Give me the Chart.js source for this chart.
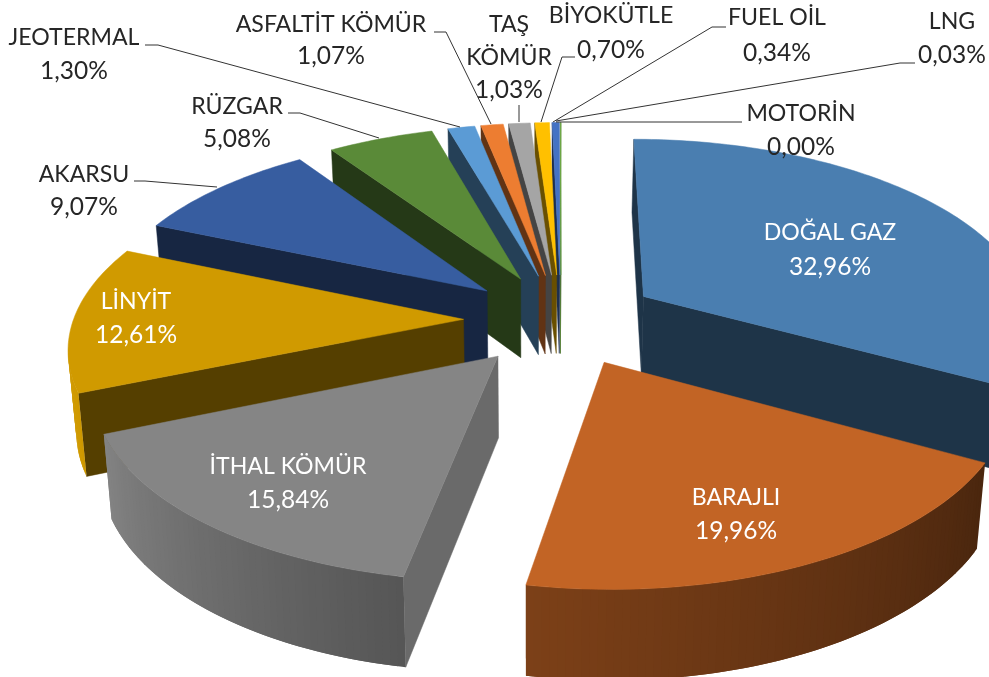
<!DOCTYPE html>
<html><head><meta charset="utf-8">
<style>html,body{margin:0;padding:0;background:#fff}canvas{display:block}</style>
<script src="https://cdn.jsdelivr.net/npm/chart.js@4"></script>
</head><body>
<canvas id="c" width="989" height="677"></canvas>
<script>
const categories = ["DOĞAL GAZ","BARAJLI","İTHAL KÖMÜR","LİNYİT","AKARSU","RÜZGAR","JEOTERMAL","ASFALTİT KÖMÜR","TAŞ KÖMÜR","BİYOKÜTLE","FUEL OİL","LNG","MOTORİN"];
const shares = [32.96,19.96,15.84,12.61,9.07,5.08,1.30,1.07,1.03,0.70,0.34,0.03,0.00];
const colors = ["#4a7eb0","#c26425","#858585","#d09a00","#375da0","#5a8a38","#5b9bd5","#ed7d31","#a5a5a5","#ffc000","#4472c4","#70ad47","#255e91"];
const labelLines = [["DOĞAL GAZ"],["BARAJLI"],["İTHAL KÖMÜR"],["LİNYİT"],["AKARSU"],["RÜZGAR"],["JEOTERMAL"],["ASFALTİT KÖMÜR"],["TAŞ","KÖMÜR"],["BİYOKÜTLE"],["FUEL OİL"],["LNG"],["MOTORİN"]];

// label layout: centre x, y of first line, line gap, colour
const labelPos = [[830,232.5,35,"#fff"],[736,497.5,34,"#fff"],[288,466.5,34,"#fff"],[136,301.5,34,"#fff"],
 [84,174.5,33,"#262626"],[237,106.5,33,"#262626"],[74,37.5,34,"#262626"],[331,24.5,32,"#262626"],[509,24.5,33,"#262626"],
 [611,16,34,"#262626"],[777,18,35,"#262626"],[952,22,33,"#262626"],[801,114,33,"#262626"]];
const leaders = [[[145,45],[158,45],[460,127]],[[434,32],[446,32],[491,124]],[[288,113],[300,113],[379,138]],
 [[134,181],[145,181],[217,187]],[[519,105],[519,122]],[[575,57],[562,57],[541,122]],[[726,27],[712,27],[553,122]],
 [[915,63],[900,63],[556,121]],[[742,122],[556,122]]];

const view = {cx:561, cy:319.5, a:390, b:184, c:0.134, explode:0.25, vanishX:530};
function project(u,v){const d=1-view.c*v;return [view.cx+view.a*u/d, view.cy+view.b*v/d];}
function drop(p){return [p[0]+(view.vanishX-p[0])*0.018, p[1]+73+0.04*(p[1]-140)];}
function shade(hex,f){const n=parseInt(hex.slice(1),16);const ch=s=>Math.round(((n>>s)&255)*f);return `rgb(${ch(16)},${ch(8)},${ch(0)})`;}
function wallLight(deg){const t=[[0,.38],[118,.38],[190,.64],[250,1],[360,1]];
 for(let i=1;i<t.length;i++){if(deg<=t[i][0]){const k=(deg-t[i-1][0])/(t[i][0]-t[i-1][0]);return t[i-1][1]+k*(t[i][1]-t[i-1][1]);}}return 1;}
function poly(ctx,pts,fill,edge){ctx.beginPath();pts.forEach((p,i)=>i?ctx.lineTo(p[0],p[1]):ctx.moveTo(p[0],p[1]));ctx.closePath();ctx.fillStyle=fill;ctx.fill();if(edge){ctx.strokeStyle=fill;ctx.lineWidth=.5;ctx.stroke();}}

const pie3d = {
 id:'pie3d',
 beforeDatasetDraw(){return false;},
 afterDatasetsDraw(chart){
  const ctx=chart.ctx, arcs=chart.getDatasetMeta(0).data;
  const order=arcs.map((el,i)=>i).filter(i=>shares[i]>0);
  const midV=i=>Math.sin((arcs[i].startAngle+arcs[i].endAngle)/2);
  order.sort((p,q)=>midV(p)-midV(q));
  const camV=1/view.c;
  ctx.save();
  order.forEach(i=>{
   const el=arcs[i], s=el.startAngle, e=el.endAngle, m=(s+e)/2, col=colors[i];
   const ou=view.explode*Math.cos(m), ov=view.explode*Math.sin(m);
   const world=a=>[ou+Math.cos(a),ov+Math.sin(a)];
   const apex=project(ou,ov);
   const pts=[];const steps=Math.max(2,Math.ceil((e-s)/(Math.PI/180)));
   for(let k=0;k<=steps;k++){const a=s+(e-s)*k/steps;const w=world(a);pts.push({a,w,p:project(w[0],w[1])});}
   // radial cut faces
   [[s,-1,pts[0]],[e,1,pts[steps]]].forEach(([a,sign,end])=>{
    const nu=Math.cos(a+sign*Math.PI/2), nv=Math.sin(a+sign*Math.PI/2);
    const mu=(ou+end.w[0])/2, mv=(ov+end.w[1])/2;
    if(nu*(-mu)+nv*(camV-mv)>0){
      let nd=(Math.atan2(nu,-nv)*180/Math.PI+360)%360;
      const f=(nd>60&&nd<150)?0.8:0.41;
      poly(ctx,[apex,end.p,drop(end.p),drop(apex)],shade(col,f),true);
    }
   });
   // outer wall: overlapping strips, so no seams show
   const strips=[];
   for(let k=0;k<steps;k++){
     const A=pts[k],B=pts[k+1],mid=(A.a+B.a)/2;
     const nu=Math.cos(mid),nv=Math.sin(mid),mw=[(A.w[0]+B.w[0])/2,(A.w[1]+B.w[1])/2];
     if(nu*(-mw[0])+nv*(camV-mw[1])<=0) continue;
     strips.push(k);
   }
   strips.forEach(k=>{
     const A=pts[k],B=pts[Math.min(k+2,steps)],mid=(pts[k].a+pts[k+1].a)/2;
     const deg=((mid+Math.PI/2)*180/Math.PI+360)%360;
     poly(ctx,[A.p,B.p,drop(B.p),drop(A.p)],shade(col,wallLight(deg)),false);
   });
   // top
   poly(ctx,[apex,...pts.map(q=>q.p)],col,true);
  });
  // leader lines
  ctx.strokeStyle="#333";ctx.lineWidth=1;
  leaders.forEach(l=>{ctx.beginPath();l.forEach((p,i)=>i?ctx.lineTo(p[0],p[1]):ctx.moveTo(p[0],p[1]));ctx.stroke();});
  // labels
  ctx.textAlign='center';ctx.textBaseline='middle';
  categories.forEach((c,i)=>{
   const [x,y,gap,fill]=labelPos[i];ctx.fillStyle=fill;
   const lines=[...labelLines[i],shares[i].toFixed(2).replace('.',',')+'%'];
   lines.forEach((t,k)=>{
     ctx.font=(k===lines.length-1?'24.5px':'23.1px')+' Lato, Carlito, sans-serif';
     ctx.fillText(t,x,y+gap*k);
   });
  });
  ctx.restore();
 }
};

new Chart(document.getElementById('c'),{
 type:'pie',
 data:{labels:categories,datasets:[{data:shares,backgroundColor:colors,borderWidth:0}]},
 options:{responsive:false,animation:false,plugins:{legend:{display:false},tooltip:{enabled:false}}},
 plugins:[pie3d]
});
</script>
</body></html>
